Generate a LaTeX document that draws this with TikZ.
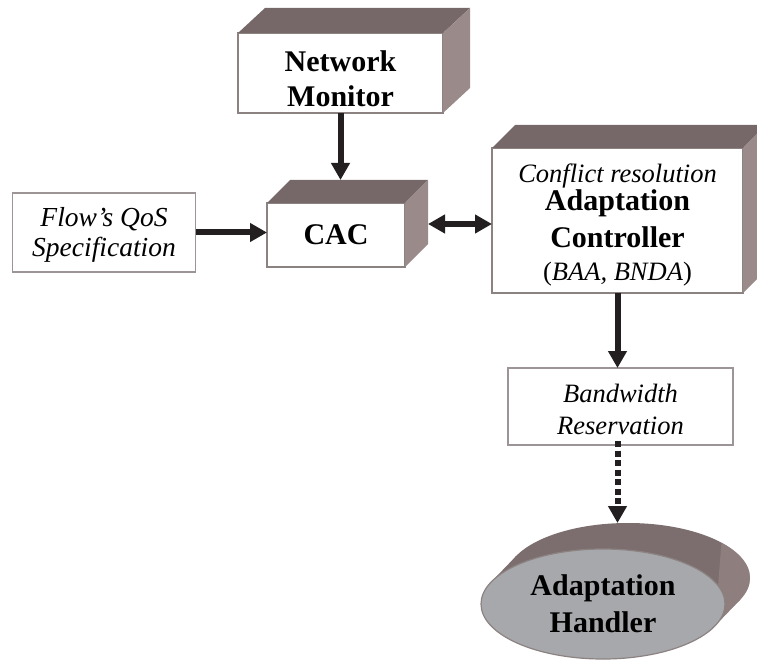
\documentclass[tikz,border=0pt]{standalone}
\usepackage{fontspec}
\setmainfont{Liberation Serif}
\usetikzlibrary{arrows.meta,shapes.geometric}
\definecolor{topc}{HTML}{766868}
\definecolor{sidec}{HTML}{9A8A8A}
\definecolor{hullc}{HTML}{7C6E6E}
\definecolor{edgec}{HTML}{8C8282}
\definecolor{ellc}{HTML}{A7A8AB}
\definecolor{arrc}{HTML}{231F20}
\newcommand{\bfnt}{\fontsize{30}{36}\selectfont\bfseries}
\newcommand{\itfnt}{\fontsize{26.5}{33}\selectfont\itshape}
\newcommand{\cubefaces}[3]{%
  \fill[topc] (#1.north west) -- ([shift={(#2,-#3)}]#1.north west) -- ([shift={(#2,-#3)}]#1.north east) -- (#1.north east) -- cycle;
  \fill[sidec] (#1.north east) -- ([shift={(#2,-#3)}]#1.north east) -- ([shift={(#2,-#3)}]#1.south east) -- (#1.south east) -- cycle;
}
\begin{document}
\begin{tikzpicture}[x=1pt,y=-1pt,
  box/.style={draw=edgec, line width=1.5pt, fill=white, rectangle, inner sep=0pt, outer sep=0pt, align=center},
  plainbox/.style={draw=edgec!85!white, line width=1.3pt, fill=white, rectangle, inner sep=0pt, outer sep=0pt, align=center},
  arr/.style={draw=arrc, line width=6pt, -{Triangle[length=17pt,width=18pt]}},
  darr/.style={draw=arrc, line width=6pt, {Triangle[length=17pt,width=18pt]}-{Triangle[length=17pt,width=18pt]}},
  dotarr/.style={draw=arrc, line width=6pt, dash pattern=on 6pt off 3.5pt, -{Triangle[length=17pt,width=18pt]}}]
\useasboundingbox (0,0) rectangle (757,660);

% Network Monitor
\node[box, minimum width=205pt, minimum height=80pt, font=\fontsize{30}{35}\selectfont\bfseries] (nm) at (340.5,73)
  {\rule{0pt}{33pt}Network\\Monitor};
\cubefaces{nm}{27}{25}

% CAC
\node[box, minimum width=138pt, minimum height=64pt, font=\bfnt] (cac) at (336,235) {CAC};
\cubefaces{cac}{23}{23}

% Flow's QoS Specification
\node[plainbox, minimum width=183pt, minimum height=79pt, font=\fontsize{27.5}{30}\selectfont\itshape] (flow) at (104,232.5)
  {\rule{0pt}{24pt}Flow’s QoS\\Specification};

% Adaptation Controller
\node[box, minimum width=251pt, minimum height=145pt, font=\fontsize{26.5}{33}\selectfont] (ac) at (617.5,220.5)
  {\rule{0pt}{27pt}\textit{Conflict resolution}\\[-5pt]{\bfnt Adaptation}\\[4pt]{\bfnt Controller}\\(\textit{BAA, BNDA})};
\cubefaces{ac}{23}{23}

% Bandwidth Reservation
\node[plainbox, minimum width=225pt, minimum height=77pt, font=\fontsize{26.5}{32}\selectfont\itshape] (br) at (620.5,406.5)
  {\rule{0pt}{25pt}Bandwidth\\Reservation};

% Adaptation Handler (extruded ellipse)
\coordinate (ahc) at (603,604);
\coordinate (ahbk) at (628,578);
\fill[hullc] (ahbk) ellipse (122 and 55);
\fill[hullc] ([shift={(-111.9,-21.9)}]ahc) -- ([shift={(-111.9,-21.9)}]ahbk) -- ([shift={(111.9,21.9)}]ahbk) -- ([shift={(111.9,21.9)}]ahc) -- cycle;
\fill[sidec, opacity=0.6] ([shift={(111.9,21.9)}]ahc) -- ([shift={(111.9,21.9)}]ahbk) arc[start angle=23.44, end angle=-40, x radius=122, y radius=55] -- cycle;
\node[ellipse, draw=edgec, line width=1.2pt, fill=ellc, minimum width=244pt, minimum height=110pt, inner sep=0pt, outer sep=0pt, align=center, font=\fontsize{30}{37}\selectfont\bfseries] (ah) at (ahc) {Adaptation\\Handler};

% connectors
\coordinate (cacback) at ([shift={(23,-23)}]cac.north);
\coordinate (cacside) at ([shift={(23,-11)}]cac.east);
\coordinate (ahback) at ([shift={(25,-26)}]ah.north);
\draw[arr] (nm.south) -- (nm.south |- cacback);
\draw[arr] (flow.east) -- (flow.east -| cac.west);
\draw[darr] (cacside) -- (cacside -| ac.west);
\draw[arr] (ac.south) -- (ac.south |- br.north);
\draw[dotarr] ([yshift=4pt]ac.south |- br.south) -- (ac.south |- ahback);
\end{tikzpicture}
\end{document}
